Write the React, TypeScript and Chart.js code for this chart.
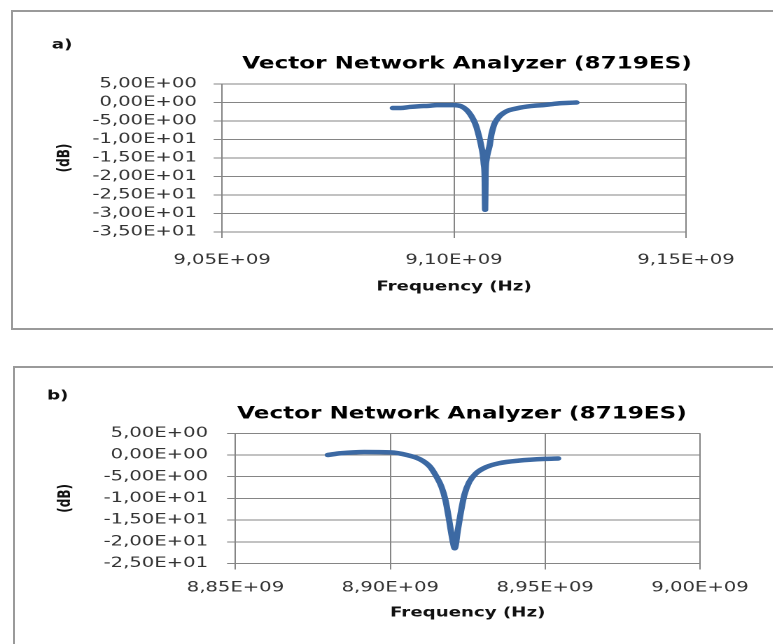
import React, { useEffect, useRef } from 'react';
import { Chart, registerables } from 'chart.js';

Chart.register(...registerables);

// ---------- text ----------
const panelTags = ['a)', 'b)'];
const chartTitle = 'Vector Network Analyzer (8719ES)';
const xAxisTitle = 'Frequency (Hz)';
const yAxisTitle = '(dB)';

// ---------- panel a data ----------
const freqA = [
  9.0868e9, 9.0885e9, 9.0905e9, 9.0925e9, 9.0945e9, 9.0963e9, 9.0985e9, 9.1000e9,
  9.1015e9, 9.1027e9, 9.1035e9, 9.1042e9, 9.1048e9, 9.1052e9, 9.1056e9, 9.1059e9,
  9.1062e9, 9.1064e9, 9.1066e9, 9.1067e9, 9.1068e9, 9.1070e9, 9.1073e9, 9.1077e9,
  9.1080e9, 9.1083e9, 9.1087e9, 9.1092e9, 9.1099e9, 9.1106e9, 9.1116e9, 9.1128e9,
  9.1142e9, 9.1157e9, 9.1175e9, 9.1192e9, 9.1210e9, 9.1228e9, 9.1246e9, 9.1264e9,
];
const dbA = [
  -1.5, -1.5, -1.2, -1.0, -0.9, -0.7, -0.7, -0.7,
  -1.0, -2.0, -3.2, -4.7, -6.5, -8.3, -10.2, -12.0,
  -14.0, -16.5, -20.0, -29.0, -19.0, -15.5, -13.5, -11.5,
  -9.0, -7.4, -5.8, -4.7, -3.6, -2.9, -2.2, -1.8,
  -1.4, -1.1, -0.85, -0.7, -0.45, -0.2, -0.1, 0.0,
];
const xRangeA = [9.05e9, 9.15e9];
const yRangeA = [-35, 5];

// ---------- panel b data ----------
const freqB = [
  8.8798e9, 8.8840e9, 8.8915e9, 8.9000e9, 8.9053e9, 8.9096e9, 8.9128e9, 8.9149e9,
  8.9165e9, 8.9178e9, 8.9188e9, 8.9197e9, 8.9205e9, 8.9208e9, 8.9218e9, 8.9229e9,
  8.9239e9, 8.9255e9, 8.9277e9, 8.9309e9, 8.9351e9, 8.9415e9, 8.9500e9, 8.9542e9,
];
const dbB = [
  0.0, 0.4, 0.7, 0.6, 0.0, -1.0, -2.7, -5.0,
  -7.3, -10.4, -14.2, -18.1, -21.0, -21.5, -17.3, -12.7,
  -9.2, -6.2, -4.2, -2.8, -1.9, -1.3, -0.9, -0.8,
];
const xRangeB = [8.85e9, 9.0e9];
const yRangeB = [-25, 5];

const xStep = 5e7;
const yStep = 5;

// ---------- helpers ----------
function excelSci(v: number): string {
  const [m, e] = Number(v).toExponential(2).split('e');
  const exp = parseInt(e, 10);
  const sign = exp < 0 ? '-' : '+';
  return m.replace('.', ',') + 'E' + sign + String(Math.abs(exp)).padStart(2, '0');
}

const FONT = '"DejaVu Sans", Verdana, sans-serif';
const STRETCH = 1.4;
const CANVAS_W = 552;
const GRID = '#858585';
const TEXT = '#333333';
const LINE = '#3C69A3';

type Layout = {
  top: number; h: number; padL: number; padR: number; padT: number; padB: number;
  yAxisW: number; xAxisH: number; yTickPad: number; xTickPad: number;
  yTitlePadTop: number; xTitlePadBottom: number;
  tagX: number; tagY: number; titleX: number; titleY: number;
};

type PanelProps = {
  tag: string; freq: number[]; db: number[]; xRange: number[]; yRange: number[]; lay: Layout;
};

function Panel({ tag, freq, db, xRange, yRange, lay }: PanelProps) {
  const ref = useRef<HTMLCanvasElement | null>(null);
  useEffect(() => {
    const canvas = ref.current;
    if (!canvas) return;
    const textPlugin = {
      id: 'panelText',
      afterDraw(chart: any) {
        const ctx = chart.ctx;
        ctx.save();
        ctx.fillStyle = '#111';
        ctx.textBaseline = 'middle';
        ctx.textAlign = 'left';
        ctx.font = `bold 13px ${FONT}`;
        ctx.fillText(tag, lay.tagX, lay.tagY);
        ctx.fillStyle = '#000';
        ctx.textAlign = 'center';
        ctx.font = `bold 16.5px ${FONT}`;
        ctx.fillText(chartTitle, lay.titleX, lay.titleY);
        ctx.restore();
      },
    };
    const chart = new Chart(canvas, {
      type: 'line',
      data: {
        datasets: [
          {
            data: freq.map((f, i) => ({ x: f, y: db[i] })),
            borderColor: LINE,
            backgroundColor: LINE,
            borderWidth: 4.5,
            pointRadius: 0,
            cubicInterpolationMode: 'monotone',
            borderCapStyle: 'round',
            borderJoinStyle: 'round',
            fill: false,
          },
        ],
      },
      options: {
        animation: false,
        responsive: false,
        devicePixelRatio: 2,
        layout: { padding: { left: lay.padL, right: lay.padR, top: lay.padT, bottom: lay.padB } },
        plugins: { legend: { display: false }, title: { display: false }, tooltip: { enabled: false } },
        scales: {
          x: {
            type: 'linear',
            min: xRange[0],
            max: xRange[1],
            afterFit: (s: any) => { s.height = lay.xAxisH; },
            ticks: {
              stepSize: xStep,
              callback: (v: any) => excelSci(Number(v)),
              font: { family: FONT, size: 14 },
              color: TEXT,
              padding: lay.xTickPad,
              maxRotation: 0,
              autoSkip: false,
            },
            grid: { color: GRID, lineWidth: 1, tickLength: 6, tickColor: GRID, drawTicks: true },
            border: { display: true, color: GRID, width: 1 },
            title: {
              display: true,
              text: xAxisTitle,
              color: '#111',
              font: { family: FONT, size: 13, weight: 'bold' },
              padding: { top: 0, bottom: lay.xTitlePadBottom },
            },
          },
          y: {
            type: 'linear',
            min: yRange[0],
            max: yRange[1],
            afterFit: (s: any) => { s.width = lay.yAxisW; },
            ticks: {
              stepSize: yStep,
              autoSkip: false,
              callback: (v: any) => excelSci(Number(v)),
              font: { family: FONT, size: 14 },
              color: TEXT,
              padding: lay.yTickPad,
            },
            grid: { color: GRID, lineWidth: 1, tickLength: 6, tickColor: GRID, drawTicks: true },
            border: { display: true, color: GRID, width: 1 },
            title: {
              display: true,
              text: yAxisTitle,
              color: '#111',
              font: { family: FONT, size: 12, weight: 'bold' },
              padding: { top: lay.yTitlePadTop, bottom: 0 },
            },
          },
        },
      } as any,
      plugins: [textPlugin],
    });
    return () => chart.destroy();
  }, []);
  return (
    <canvas
      ref={ref}
      width={CANVAS_W}
      height={lay.h}
      style={{
        position: 'absolute',
        left: 0,
        top: lay.top,
        width: CANVAS_W,
        height: lay.h,
        transform: `scaleX(${STRETCH})`,
        transformOrigin: '0 0',
      }}
    />
  );
}

const layoutA: Layout = {
  top: 12, h: 314, padL: 30, padR: 62, padT: 72, padB: 25,
  yAxisW: 128.6, xAxisH: 69, yTickPad: 12, xTickPad: 14,
  yTitlePadTop: 9, xTitlePadBottom: 6,
  tagX: 37, tagY: 33, titleX: 333.6, titleY: 52,
};

const layoutB: Layout = {
  top: 369, h: 275, padL: 30, padR: 52, padT: 64.3, padB: 20,
  yAxisW: 138.2, xAxisH: 60.5, yTickPad: 13.6, xTickPad: 10,
  yTitlePadTop: 9.8, xTitlePadBottom: 3,
  tagX: 33.6, tagY: 27, titleX: 330, titleY: 45,
};

export default function App() {
  return (
    <div
      style={{
        position: 'absolute',
        left: 0,
        top: 0,
        width: 773,
        height: 644,
        overflow: 'hidden',
        background: '#fff',
      }}
    >
      <div
        style={{
          position: 'absolute',
          left: 11,
          top: 10,
          width: 800,
          height: 316,
          borderLeft: '2px solid #9a9a9a',
          borderTop: '2px solid #9a9a9a',
          borderBottom: '2px solid #9a9a9a',
        }}
      />
      <div
        style={{
          position: 'absolute',
          left: 13,
          top: 366,
          width: 800,
          height: 400,
          borderLeft: '2px solid #9a9a9a',
          borderTop: '2px solid #9a9a9a',
        }}
      />
      <Panel tag={panelTags[0]} freq={freqA} db={dbA} xRange={xRangeA} yRange={yRangeA} lay={layoutA} />
      <Panel tag={panelTags[1]} freq={freqB} db={dbB} xRange={xRangeB} yRange={yRangeB} lay={layoutB} />
    </div>
  );
}
